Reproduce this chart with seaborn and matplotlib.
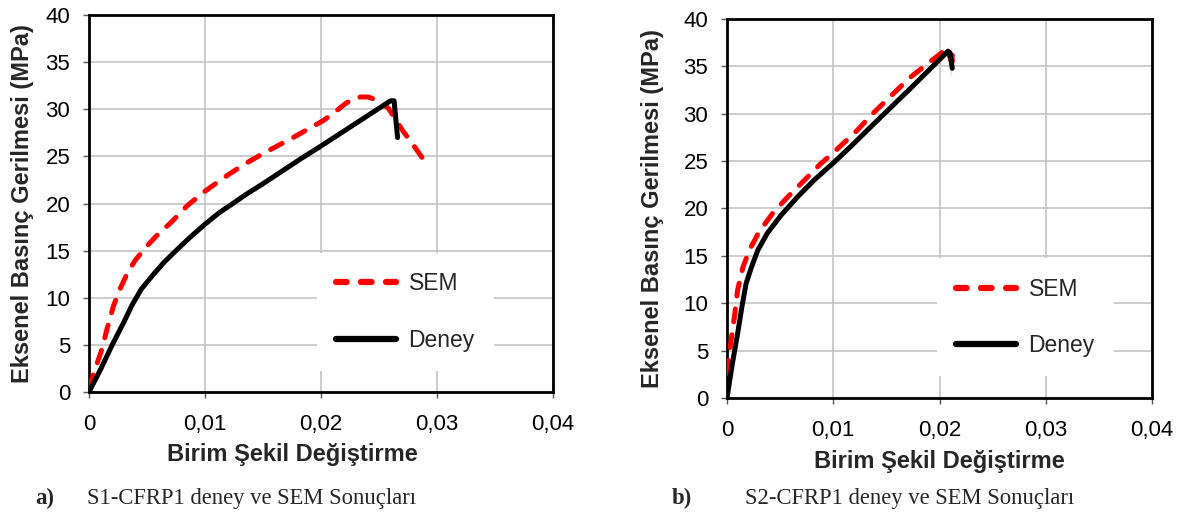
import matplotlib
matplotlib.use("Agg")
import matplotlib.pyplot as plt
import seaborn as sns
import pandas as pd

# S1-CFRP1: strain / stress curves
s1_sem_strain = [0.0, 0.0005, 0.0011, 0.0016, 0.0021, 0.0027, 0.0033, 0.0040, 0.0050,
                 0.0060, 0.0070, 0.0085, 0.0100, 0.0117, 0.0133, 0.0150, 0.0176,
                 0.0202, 0.0212, 0.0221, 0.0228, 0.0234, 0.0241, 0.0247, 0.0253,
                 0.0258, 0.0264, 0.0270, 0.0279, 0.0287]
s1_sem_stress = [0.5, 2.3, 4.5, 6.9, 9.1, 11.0, 12.6, 14.0, 15.5,
                 16.8, 17.9, 19.8, 21.3, 22.8, 24.1, 25.3, 27.0,
                 28.8, 29.7, 30.6, 31.1, 31.3, 31.3, 31.0, 30.6,
                 30.1, 29.0, 27.8, 26.3, 24.9]
s1_exp_strain = [0.0, 0.0010, 0.0020, 0.0030, 0.0037, 0.0045, 0.0055, 0.0065, 0.0075,
                 0.0087, 0.0100, 0.0112, 0.0124, 0.0137, 0.0150, 0.0166, 0.0182,
                 0.0200, 0.0215, 0.0235, 0.0260, 0.0263, 0.0266]
s1_exp_stress = [0.0, 2.4, 5.0, 7.4, 9.2, 10.9, 12.4, 13.8, 15.0,
                 16.4, 17.8, 19.0, 20.0, 21.1, 22.1, 23.4, 24.7,
                 26.1, 27.3, 28.9, 30.9, 30.9, 27.0]

# S2-CFRP1: strain / stress curves
s2_sem_strain = [0.0, 0.0003, 0.0007, 0.0010, 0.0015, 0.0021, 0.0030, 0.0043, 0.0057,
                 0.0073, 0.0087, 0.0104, 0.0123, 0.0137, 0.0172, 0.0197, 0.0207,
                 0.0211, 0.0213, 0.0212, 0.0211]
s2_sem_stress = [2.6, 5.4, 8.6, 11.4, 13.8, 15.6, 17.5, 19.5, 21.2,
                 23.0, 24.6, 26.3, 28.3, 30.0, 33.8, 36.0, 36.9,
                 37.0, 36.6, 35.5, 34.1]
s2_exp_strain = [0.0, 0.0005, 0.0010, 0.0014, 0.0018, 0.0023, 0.0029, 0.0038, 0.0051,
                 0.0067, 0.0082, 0.0100, 0.0117, 0.0137, 0.0172, 0.0208, 0.0210, 0.0212]
s2_exp_stress = [0.0, 3.6, 6.8, 9.6, 12.1, 13.8, 15.6, 17.4, 19.3,
                 21.3, 23.0, 24.8, 26.6, 28.8, 32.6, 36.6, 36.4, 34.8]

x_ticks = [0, 0.01, 0.02, 0.03, 0.04]
x_tick_labels = ["0", "0,01", "0,02", "0,03", "0,04"]
y_ticks = [0, 5, 10, 15, 20, 25, 30, 35, 40]

x_label = "Birim Şekil Değiştirme"
y_label = "Eksenel Basınç Gerilmesi (MPa)"
captions = [("a)", "S1-CFRP1 deney ve SEM Sonuçları"),
            ("b)", "S2-CFRP1 deney ve SEM Sonuçları")]

sns.set_theme(style="white")
plt.rcParams["font.family"] = ["Liberation Sans", "DejaVu Sans"]

W, H = 1180, 517
fig = plt.figure(figsize=(W / 100, H / 100), dpi=100)


def px_axes(x0, x1, y_top, y_bot):
    return fig.add_axes([x0 / W, 1 - y_bot / H, (x1 - x0) / W, (y_bot - y_top) / H])


ax1 = px_axes(89, 553, 15, 392)
ax2 = px_axes(727, 1152, 19, 398)

panels = [
    (ax1, s1_sem_strain, s1_sem_stress, s1_exp_strain, s1_exp_stress,
     (0.491, 0.369), (0.4375, -0.135), 8),
    (ax2, s2_sem_strain, s2_sem_stress, s2_exp_strain, s2_exp_stress,
     (0.494, 0.369), (0.5, -0.137), 14),
]

for ax, sx, sy, ex, ey, leg_anchor, xlab_xy, ylab_pad in panels:
    sem = pd.DataFrame({"strain": sx, "stress": sy})
    exp = pd.DataFrame({"strain": ex, "stress": ey})
    sns.lineplot(data=sem, x="strain", y="stress", sort=False, ax=ax,
                 color="#ff0000", lw=3.6, label="SEM", zorder=3)
    red = ax.lines[-1]
    red.set_dashes([2.6, 2.6])
    red.set_dash_capstyle("round")
    red.set_dash_joinstyle("round")
    sns.lineplot(data=exp, x="strain", y="stress", sort=False, ax=ax,
                 color="black", lw=3.6, label="Deney", zorder=4)
    blk = ax.lines[-1]
    blk.set_solid_capstyle("round")
    blk.set_solid_joinstyle("round")

    ax.set_xlim(0, 0.04)
    ax.set_ylim(0, 40)
    ax.set_xticks(x_ticks)
    ax.set_xticklabels(x_tick_labels)
    ax.set_yticks(y_ticks)
    ax.grid(True, color="#c4c4c4", lw=1.2)
    ax.set_axisbelow(True)
    for sp in ax.spines.values():
        sp.set_color("black")
        sp.set_linewidth(2.0)
        sp.set_visible(True)
    ax.tick_params(axis="both", direction="out", length=4.5, width=1.0,
                   color="#555555", labelsize=16, labelcolor="black",
                   bottom=True, left=True)
    ax.tick_params(axis="x", pad=11)
    ax.tick_params(axis="y", pad=9)
    ax.set_xlabel(x_label, fontsize=17, fontweight="bold")
    ax.xaxis.set_label_coords(*xlab_xy)
    ax.set_ylabel(y_label, fontsize=17, fontweight="bold", labelpad=ylab_pad)

    leg = ax.legend(loc="upper left", bbox_to_anchor=leg_anchor,
                    frameon=True, fancybox=False, framealpha=1.0,
                    facecolor="white", edgecolor="none", fontsize=16.5,
                    handlelength=2.6, handletextpad=0.55, labelspacing=1.45,
                    borderpad=0.85, borderaxespad=0)
    leg.set_zorder(2.5)
    h_sem, h_exp = leg.get_lines()
    h_sem.set_linewidth(4.5)
    h_sem.set_dashes([1.7, 2.3])
    h_sem.set_dash_capstyle("round")
    h_exp.set_linewidth(4.5)
    h_exp.set_solid_capstyle("round")

serif = ["Liberation Serif", "DejaVu Serif"]
for (tag, text), (x_tag, x_text) in zip(captions, [(35, 87), (672, 745)]):
    fig.text(x_tag / W, 1 - 504 / H, tag, fontsize=16.5, fontweight="bold",
             family=serif, ha="left", va="baseline")
    fig.text(x_text / W, 1 - 504 / H, text, fontsize=16.3,
             family=serif, ha="left", va="baseline")

fig.savefig("out.png", dpi=100, facecolor="white")
